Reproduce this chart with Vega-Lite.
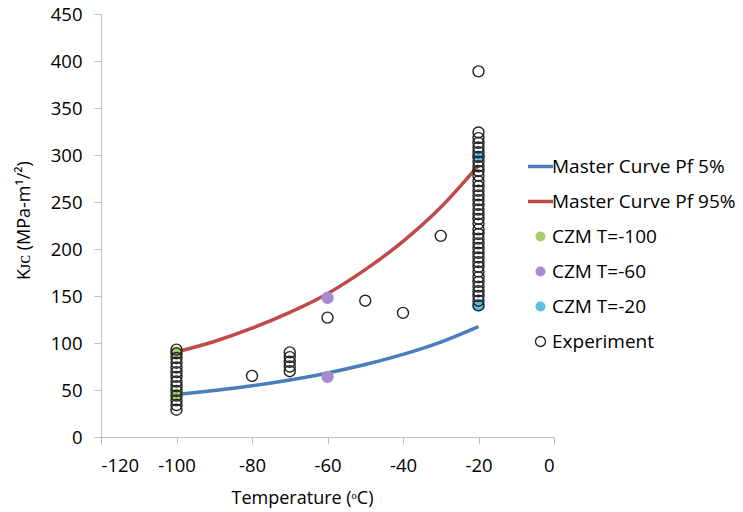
{
  "$schema": "https://vega.github.io/schema/vega-lite/v6.json",
  "width": 453,
  "height": 423,
  "autosize": {"type": "none"},
  "padding": {"left": 101, "top": 14, "right": 189, "bottom": 75},
  "background": "white",
  "config": {
    "view": {"stroke": null},
    "font": "Open Sans",
    "axis": {
      "grid": false,
      "domainColor": "#bfbfbf",
      "tickColor": "#bfbfbf",
      "tickSize": 7,
      "labelFont": "Open Sans",
      "labelFontSize": 18.5,
      "labelColor": "#000000",
      "labelPadding": 12,
      "labelExpr": "'' + datum.value",
      "titleFont": "Open Sans",
      "titleFontSize": 18,
      "titleFontWeight": "normal",
      "titleColor": "#000000"
    },
    "legend": {
      "labelFont": "Open Sans",
      "labelFontSize": 19,
      "labelColor": "#000000",
      "labelLimit": 0
    }
  },
  "datasets": {
    "curves": [
      {"series": "Master Curve Pf 5%", "T": -100, "K": 45.3},
      {"series": "Master Curve Pf 5%", "T": -90, "K": 49.4},
      {"series": "Master Curve Pf 5%", "T": -80, "K": 54.5},
      {"series": "Master Curve Pf 5%", "T": -70, "K": 60.7},
      {"series": "Master Curve Pf 5%", "T": -60, "K": 68.1},
      {"series": "Master Curve Pf 5%", "T": -50, "K": 77.1},
      {"series": "Master Curve Pf 5%", "T": -40, "K": 87.9},
      {"series": "Master Curve Pf 5%", "T": -30, "K": 101.0},
      {"series": "Master Curve Pf 5%", "T": -20, "K": 117.5},
      {"series": "Master Curve Pf 95%", "T": -100, "K": 90.5},
      {"series": "Master Curve Pf 95%", "T": -90, "K": 101.6},
      {"series": "Master Curve Pf 95%", "T": -80, "K": 115.7},
      {"series": "Master Curve Pf 95%", "T": -70, "K": 132.6},
      {"series": "Master Curve Pf 95%", "T": -60, "K": 152.5},
      {"series": "Master Curve Pf 95%", "T": -50, "K": 178.0},
      {"series": "Master Curve Pf 95%", "T": -40, "K": 208.1},
      {"series": "Master Curve Pf 95%", "T": -30, "K": 244.4},
      {"series": "Master Curve Pf 95%", "T": -20, "K": 289.0}
    ],
    "points": [
      {"series": "CZM T=-100", "T": -100, "K": 90},
      {"series": "CZM T=-100", "T": -100, "K": 45},
      {"series": "CZM T=-60", "T": -60, "K": 148},
      {"series": "CZM T=-60", "T": -60, "K": 64},
      {"series": "CZM T=-20", "T": -20, "K": 298},
      {"series": "CZM T=-20", "T": -20, "K": 140},
      {"series": "Experiment", "T": -100, "K": 29},
      {"series": "Experiment", "T": -100, "K": 34},
      {"series": "Experiment", "T": -100, "K": 39},
      {"series": "Experiment", "T": -100, "K": 44},
      {"series": "Experiment", "T": -100, "K": 49},
      {"series": "Experiment", "T": -100, "K": 54},
      {"series": "Experiment", "T": -100, "K": 59},
      {"series": "Experiment", "T": -100, "K": 64},
      {"series": "Experiment", "T": -100, "K": 69},
      {"series": "Experiment", "T": -100, "K": 74},
      {"series": "Experiment", "T": -100, "K": 79},
      {"series": "Experiment", "T": -100, "K": 84},
      {"series": "Experiment", "T": -100, "K": 89},
      {"series": "Experiment", "T": -100, "K": 93},
      {"series": "Experiment", "T": -80, "K": 65},
      {"series": "Experiment", "T": -70, "K": 70},
      {"series": "Experiment", "T": -70, "K": 75},
      {"series": "Experiment", "T": -70, "K": 80},
      {"series": "Experiment", "T": -70, "K": 85},
      {"series": "Experiment", "T": -70, "K": 90},
      {"series": "Experiment", "T": -60, "K": 127},
      {"series": "Experiment", "T": -50, "K": 145},
      {"series": "Experiment", "T": -40, "K": 132},
      {"series": "Experiment", "T": -30, "K": 214},
      {"series": "Experiment", "T": -20, "K": 140},
      {"series": "Experiment", "T": -20, "K": 145},
      {"series": "Experiment", "T": -20, "K": 150},
      {"series": "Experiment", "T": -20, "K": 155},
      {"series": "Experiment", "T": -20, "K": 160},
      {"series": "Experiment", "T": -20, "K": 165},
      {"series": "Experiment", "T": -20, "K": 170},
      {"series": "Experiment", "T": -20, "K": 176},
      {"series": "Experiment", "T": -20, "K": 181},
      {"series": "Experiment", "T": -20, "K": 186},
      {"series": "Experiment", "T": -20, "K": 191},
      {"series": "Experiment", "T": -20, "K": 196},
      {"series": "Experiment", "T": -20, "K": 201},
      {"series": "Experiment", "T": -20, "K": 206},
      {"series": "Experiment", "T": -20, "K": 211},
      {"series": "Experiment", "T": -20, "K": 216},
      {"series": "Experiment", "T": -20, "K": 221},
      {"series": "Experiment", "T": -20, "K": 227},
      {"series": "Experiment", "T": -20, "K": 232},
      {"series": "Experiment", "T": -20, "K": 237},
      {"series": "Experiment", "T": -20, "K": 242},
      {"series": "Experiment", "T": -20, "K": 247},
      {"series": "Experiment", "T": -20, "K": 252},
      {"series": "Experiment", "T": -20, "K": 257},
      {"series": "Experiment", "T": -20, "K": 262},
      {"series": "Experiment", "T": -20, "K": 267},
      {"series": "Experiment", "T": -20, "K": 272},
      {"series": "Experiment", "T": -20, "K": 278},
      {"series": "Experiment", "T": -20, "K": 283},
      {"series": "Experiment", "T": -20, "K": 288},
      {"series": "Experiment", "T": -20, "K": 293},
      {"series": "Experiment", "T": -20, "K": 298},
      {"series": "Experiment", "T": -20, "K": 303},
      {"series": "Experiment", "T": -20, "K": 308},
      {"series": "Experiment", "T": -20, "K": 313},
      {"series": "Experiment", "T": -20, "K": 318},
      {"series": "Experiment", "T": -20, "K": 324},
      {"series": "Experiment", "T": -20, "K": 389}
    ]
  },
  "encoding": {
    "x": {
      "field": "T",
      "type": "quantitative",
      "scale": {"domain": [-120, 0], "nice": false, "zero": false},
      "axis": {
        "values": [-120, -100, -80, -60, -40, -20, 0],
        "title": "Temperature (ᵒC)",
        "titleAnchor": "start",
        "titleAlign": "center",
        "titleX": 201,
        "titleY": 66,
        "titleBaseline": "alphabetic"
      }
    },
    "y": {
      "field": "K",
      "type": "quantitative",
      "scale": {"domain": [0, 450], "nice": false},
      "axis": {
        "values": [0, 50, 100, 150, 200, 250, 300, 350, 400, 450],
        "title": "Kᴊᴄ (MPa-m¹/²)",
        "titleAngle": 270,
        "titleAlign": "center",
        "titleBaseline": "alphabetic",
        "titleX": -72,
        "titleY": 206
      }
    }
  },
  "layer": [
    {
      "data": {"name": "curves"},
      "mark": {"type": "line", "strokeWidth": 3.5, "interpolate": "monotone"},
      "encoding": {
        "stroke": {
          "field": "series",
          "type": "nominal",
          "scale": {
            "domain": ["Master Curve Pf 5%", "Master Curve Pf 95%", "CZM T=-100", "CZM T=-60", "CZM T=-20", "Experiment"],
            "range": ["#4a7ebb", "#be4b48", "#a8cc6c", "#a58dd0", "#5bc2de", "#222222"]
          },
          "legend": {
            "title": null,
            "orient": "none",
            "legendX": 430,
            "legendY": 143,
            "rowPadding": 15,
            "labelOffset": 2,
            "labelLimit": 0,
            "symbolStrokeWidth": 3.5,
            "encode": {
              "symbols": {
                "update": {
                  "size": {"signal": "indexof(['Master Curve Pf 5%','Master Curve Pf 95%'], datum.value) >= 0 ? 625 : 100"},
                  "strokeWidth": {"signal": "indexof(['Master Curve Pf 5%','Master Curve Pf 95%'], datum.value) >= 0 ? 3.5 : (datum.value == 'Experiment' ? 1.3 : 0)"}
                }
              }
            }
          }
        }
      }
    },
    {
      "data": {"name": "points"},
      "mark": {"type": "point", "shape": "circle", "size": 121, "strokeWidth": 1.4, "opacity": 1},
      "encoding": {
        "stroke": {"field": "series", "type": "nominal"},
        "fill": {
          "field": "series",
          "type": "nominal",
          "scale": {
            "domain": ["Master Curve Pf 5%", "Master Curve Pf 95%", "CZM T=-100", "CZM T=-60", "CZM T=-20", "Experiment"],
            "range": ["#4a7ebb", "#be4b48", "#a8cc6c", "#a58dd0", "#5bc2de", "transparent"]
          }
        },
        "shape": {
          "field": "series",
          "type": "nominal",
          "scale": {
            "domain": ["Master Curve Pf 5%", "Master Curve Pf 95%", "CZM T=-100", "CZM T=-60", "CZM T=-20", "Experiment"],
            "range": ["stroke", "stroke", "circle", "circle", "circle", "circle"]
          }
        }
      }
    }
  ]
}
